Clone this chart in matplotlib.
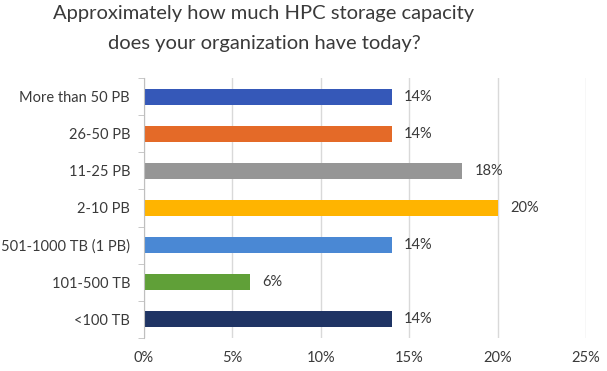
import numpy as np
import matplotlib.pyplot as plt

categories = ['More than 50 PB', '26-50 PB', '11-25 PB', '2-10 PB',
              '501-1000 TB (1 PB)', '101-500 TB', '<100 TB']
values = [14, 14, 18, 20, 14, 6, 14]
colors = ['#3558B8', '#E46A28', '#969696', '#FFB400',
          '#4A88D4', '#60A038', '#1F3464']
xticks = [0, 5, 10, 15, 20, 25]

plt.rcParams['font.family'] = ['Lato', 'DejaVu Sans']
text_col = '#3A3A3A'

fig = plt.figure(figsize=[6.07, 3.71], dpi=100)
ax = fig.add_axes([144/607, 33/371, 442/607, 260/371])

y = np.arange(len(categories))
ax.barh(y, values, height=0.43, color=colors, zorder=3)
for yi, v in zip(y, values):
    ax.text(v + 0.7, yi, '{}%'.format(v), va='center', ha='left',
            fontsize=10.5, color=text_col)

ax.set_xlim(0, 25)
ax.set_ylim(len(categories) - 0.5, -0.5)
ax.set_xticks(xticks)
ax.set_xticklabels(['{}%'.format(t) for t in xticks])
ax.set_yticks(y)
ax.set_yticklabels(categories)
ax.set_yticks(np.arange(len(categories) + 1) - 0.5, minor=True)
ax.tick_params(axis='y', which='major', length=0, pad=10, labelsize=10.5, labelcolor=text_col)
ax.tick_params(axis='y', which='minor', length=4, color='#BFBFBF', direction='out')
ax.tick_params(axis='x', length=0, pad=9, labelsize=10.5, labelcolor=text_col)
ax.grid(axis='x', color='#D9D9D9', lw=1, zorder=0)
for s in ['top', 'right', 'bottom']:
    ax.spines[s].set_visible(False)
ax.spines['left'].set_color('#BFBFBF')
ax.spines['left'].set_zorder(4)

fig.text(264/607, 1 - 13/371, 'Approximately how much HPC storage capacity',
         ha='center', va='center', fontsize=14.5, color=text_col)
fig.text(264/607, 1 - 43/371, 'does your organization have today?',
         ha='center', va='center', fontsize=14.5, color=text_col)

plt.savefig('out.png', dpi=100)
